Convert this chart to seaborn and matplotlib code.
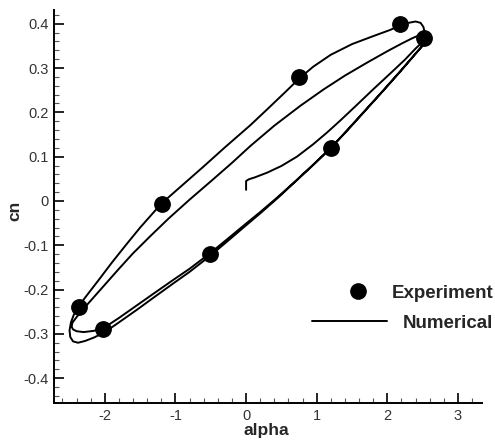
import matplotlib
matplotlib.use("Agg")
import matplotlib.pyplot as plt
from matplotlib.ticker import MultipleLocator, FixedLocator, FixedFormatter
from matplotlib.lines import Line2D
import seaborn as sns
import pandas as pd

# ---- Experimental data ----
exp_alpha = [-2.37, -2.03, -1.19, -0.51, 0.75, 1.20, 2.18, 2.52]
exp_cn = [-0.239, -0.289, -0.007, -0.120, 0.280, 0.120, 0.400, 0.368]

# ---- Numerical curve, read branch by branch (in drawing order) ----
# initial transient upstroke
start_alpha = [0.00, 0.00, 0.04, 0.12, 0.30, 0.50, 0.72, 0.95, 1.15, 1.33, 1.55, 1.80,
               2.05, 2.25, 2.40, 2.50, 2.56]
start_cn = [0.025, 0.045, 0.049, 0.053, 0.064, 0.079, 0.100, 0.128, 0.155, 0.181, 0.214, 0.252,
            0.289, 0.319, 0.344, 0.359, 0.369]
# first downstroke (lower branch, inner tip)
down1_alpha = [2.55, 2.40, 2.20, 1.95, 1.70, 1.45, 1.20, 0.95, 0.70, 0.45, 0.20, 0.00,
               -0.25, -0.51, -0.80, -1.03, -1.30, -1.55, -1.80, -2.00, -2.15, -2.30,
               -2.40, -2.45, -2.47]
down1_cn = [0.360, 0.333, 0.296, 0.251, 0.207, 0.163, 0.120, 0.082, 0.045, 0.009, -0.025, -0.051,
            -0.084, -0.118, -0.153, -0.178, -0.208, -0.236, -0.264, -0.285, -0.293, -0.296,
            -0.294, -0.290, -0.284]
# inner upper branch
up1_alpha = [-2.46, -2.40, -2.30, -2.15, -2.00, -1.80, -1.60, -1.36, -1.10, -0.80, -0.48,
             -0.20, 0.06, 0.40, 0.77, 1.10, 1.40, 1.70, 2.00, 2.20, 2.35, 2.45, 2.52,
             2.56, 2.58]
up1_cn = [-0.275, -0.262, -0.243, -0.216, -0.189, -0.153, -0.118, -0.080, -0.040, 0.003, 0.047,
          0.086, 0.124, 0.170, 0.215, 0.252, 0.283, 0.311, 0.338, 0.355, 0.367, 0.374, 0.376,
          0.373, 0.366]
# second downstroke (lower branch, outer tip)
down2_alpha = [2.54, 2.40, 2.20, 1.95, 1.70, 1.45, 1.20, 0.95, 0.70, 0.45, 0.20, 0.00,
               -0.25, -0.51, -0.80, -1.03, -1.30, -1.55, -1.80, -2.00, -2.15, -2.28,
               -2.38, -2.45, -2.49, -2.50, -2.48, -2.44]
down2_cn = [0.358, 0.332, 0.295, 0.250, 0.206, 0.162, 0.119, 0.081, 0.044, 0.007, -0.028, -0.055,
            -0.089, -0.124, -0.160, -0.186, -0.217, -0.246, -0.274, -0.296, -0.308, -0.316,
            -0.320, -0.317, -0.307, -0.292, -0.274, -0.257]
# outer upper branch with cap
up2_alpha = [-2.37, -2.25, -2.10, -1.90, -1.70, -1.50, -1.20, -0.90, -0.60, -0.30, 0.06,
             0.30, 0.55, 0.75, 0.95, 1.20, 1.50, 1.80, 2.04, 2.18, 2.30, 2.40, 2.47,
             2.51, 2.53]
up2_cn = [-0.237, -0.212, -0.181, -0.139, -0.099, -0.060, -0.006, 0.036, 0.078, 0.121, 0.171,
          0.207, 0.245, 0.276, 0.303, 0.330, 0.354, 0.372, 0.386, 0.396, 0.402, 0.405, 0.402,
          0.393, 0.380]

num_alpha = start_alpha + down1_alpha + up1_alpha + down2_alpha + up2_alpha
num_cn = start_cn + down1_cn + up1_cn + down2_cn + up2_cn
num_df = pd.DataFrame({"alpha": num_alpha, "cn": num_cn})
exp_df = pd.DataFrame({"alpha": exp_alpha, "cn": exp_cn})

x_ticks = [-2, -1, 0, 1, 2, 3]
x_ticklabels = ["-2", "-1", "0", "1", "2", "3"]
y_ticks = [-0.4, -0.3, -0.2, -0.1, 0.0, 0.1, 0.2, 0.3, 0.4]
y_ticklabels = ["-0.4", "-0.3", "-0.2", "-0.1", "0", "0.1", "0.2", "0.3", "0.4"]

sns.set_style("ticks")
plt.rcParams["font.family"] = ["Liberation Sans", "DejaVu Sans"]

fig = plt.figure(figsize=(4.95, 4.40), dpi=100)
ax = fig.add_axes([0.1091, 0.0841, 0.8646, 0.8932])

sns.lineplot(data=num_df, x="alpha", y="cn", sort=False, estimator=None,
             color="black", linewidth=1.4, ax=ax, zorder=2)
sns.scatterplot(data=exp_df, x="alpha", y="cn", color="black", edgecolor="black",
                s=125, ax=ax, zorder=3)

ax.set_xlim(-2.72, 3.34)
ax.set_ylim(-0.456, 0.431)

ax.xaxis.set_major_locator(FixedLocator(x_ticks))
ax.xaxis.set_major_formatter(FixedFormatter(x_ticklabels))
ax.yaxis.set_major_locator(FixedLocator(y_ticks))
ax.yaxis.set_major_formatter(FixedFormatter(y_ticklabels))
ax.xaxis.set_minor_locator(MultipleLocator(0.2))
ax.yaxis.set_minor_locator(MultipleLocator(0.02))

ax.tick_params(which="major", direction="in", length=7, width=1.2, labelsize=10.5,
               labelcolor="#333333", pad=4, color="black")
ax.tick_params(which="minor", direction="in", length=3.5, width=0.8, color="#555555")
ax.tick_params(top=False, right=False, which="both")

for s in ["top", "right"]:
    ax.spines[s].set_visible(False)
for s in ["left", "bottom"]:
    ax.spines[s].set_linewidth(1.4)
    ax.spines[s].set_color("black")

ax.set_xlabel("alpha", fontsize=12.5, fontweight="bold")
ax.set_ylabel("cn", fontsize=12.5, fontweight="bold")
ax.xaxis.set_label_coords(0.495, -0.052)
ax.yaxis.set_label_coords(-0.074, 0.49)

# legend (two rows, placed separately)
h_exp = Line2D([], [], linestyle="none", marker="o", markersize=11, color="black")
h_num = Line2D([], [], color="black", linewidth=1.4)
leg1 = ax.legend([h_exp], ["Experiment"], loc="center right", frameon=False,
                 bbox_to_anchor=(0.996, 0.333), bbox_transform=fig.transFigure,
                 borderpad=0, borderaxespad=0, handlelength=2.0, handletextpad=0.8,
                 prop={"family": ["Liberation Sans"], "weight": "bold", "size": 13.5})
ax.add_artist(leg1)
leg2 = ax.legend([h_num], ["Numerical"], loc="center right", frameon=False,
                 bbox_to_anchor=(0.996, 0.266), bbox_transform=fig.transFigure,
                 borderpad=0, borderaxespad=0, handlelength=3.96, handletextpad=0.85,
                 prop={"family": ["Liberation Sans"], "weight": "bold", "size": 13.5})

fig.savefig("out.png", dpi=100)
